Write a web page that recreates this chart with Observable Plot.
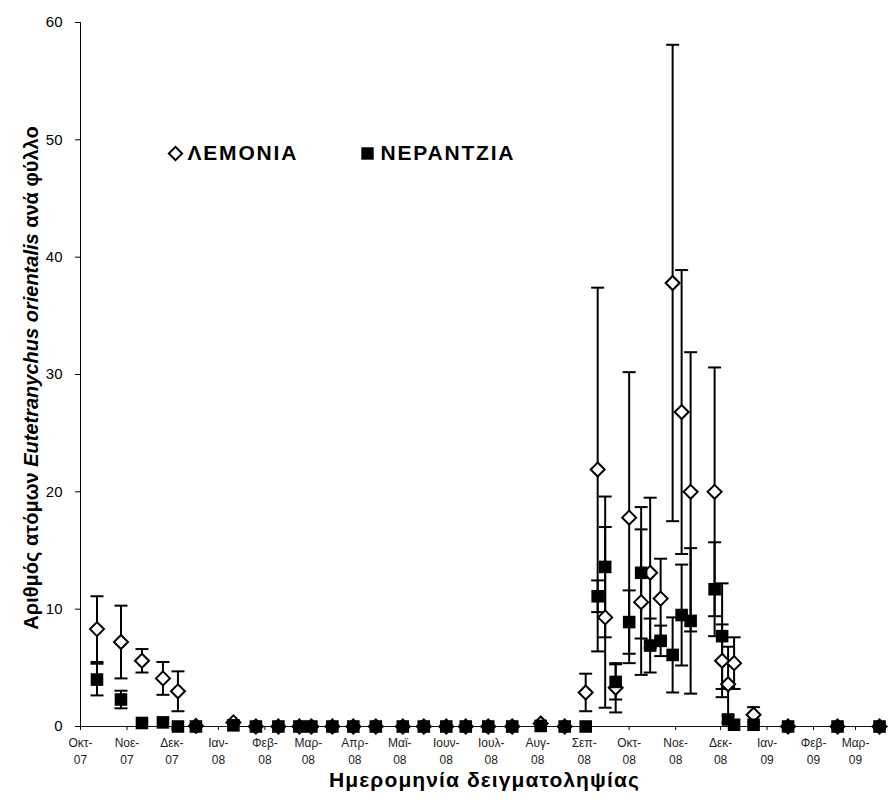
<!DOCTYPE html>
<html><head><meta charset="utf-8">
<script src="https://cdn.jsdelivr.net/npm/d3@7"></script>
<script src="https://cdn.jsdelivr.net/npm/@observablehq/plot@0.6"></script>
<style>body{margin:0;background:#fff;font-family:Arial,"Liberation Sans",sans-serif}</style>
</head><body><div id="chart"></div>
<script>
// Sampling dates
const dates = [
  "2007-10-12","2007-10-28","2007-11-11","2007-11-25","2007-12-05","2007-12-17",
  "2008-01-11","2008-01-26","2008-02-10","2008-02-24","2008-03-03","2008-03-17",
  "2008-03-31","2008-04-15","2008-05-03","2008-05-17","2008-06-01","2008-06-14",
  "2008-06-29","2008-07-15","2008-08-03","2008-08-19","2008-09-02","2008-09-10",
  "2008-09-15","2008-09-22","2008-10-01","2008-10-09","2008-10-15","2008-10-22",
  "2008-10-30","2008-11-05","2008-11-11","2008-11-27","2008-12-02","2008-12-06",
  "2008-12-10","2008-12-23","2009-01-15","2009-02-17","2009-03-17"
];
// ΛΕΜΟΝΙΑ (lemon) means and errors
const lemonia = [
  8.3,7.2,5.6,4.1,3.0,0.05, 0.35,0,0,0,0,0, 0,0,0,0,0,0, 0,0,0.25,0,2.9,21.9,
  9.3,3.3,17.8,10.6,13.1,10.9, 37.8,26.8,20.0,20.0,5.6,3.6, 5.4,1.0,0,0,0
];
const lemoniaErr = [
  2.8,3.1,1.0,1.4,1.7,0, 0,0,0,0,0,0, 0,0,0,0,0,0, 0,0,0,0,1.6,15.5,
  7.7,2.1,12.4,6.2,6.4,3.4, 20.3,12.1,11.9,10.6,3.1,3.2, 2.2,0.65,0,0,0
];
// ΝΕΡΑΝΤΖΙΑ (sour orange) means and errors
const nerantzia = [
  4.0,2.3,0.3,0.35,0,0, 0.1,0,0,0,0,0, 0,0,0,0,0,0, 0,0,0.05,0,0,11.1,
  13.6,3.8,8.9,13.1,6.9,7.3, 6.1,9.5,9.0,11.7,7.7,0.6, 0.15,0.15,0,0,0
];
const nerantziaErr = [
  1.35,0.75,0,0,0,0, 0,0,0,0,0,0, 0,0,0,0,0,0, 0,0,0,0,0,1.35,
  6.0,1.5,2.7,5.6,2.3,1.3, 3.2,4.3,6.2,4.0,4.5,0.3, 0,0,0,0,0
];
const monthLabels = ["Ιαν","Φεβ","Μαρ","Απρ","Μαϊ","Ιουν","Ιουλ","Αυγ","Σεπ","Οκτ","Νοε","Δεκ"];
const yTicks = [0,10,20,30,40,50,60];
const seriesNames = ["ΛΕΜΟΝΙΑ","ΝΕΡΑΝΤΖΙΑ"];
const yTitleParts = ["Αριθμός ατόμων ","Eutetranychus orientalis"," ανά φύλλο"];
const xTitle = "Ημερομηνία δειγματοληψίας";

const parse = d3.utcParse("%Y-%m-%d");
const xStart = parse("2007-10-01"), xEnd = parse("2009-03-23");
const L = dates.map((d,i)=>({date:parse(d), v:lemonia[i], e:lemoniaErr[i]}));
const N = dates.map((d,i)=>({date:parse(d), v:nerantzia[i], e:nerantziaErr[i]}));
const errRows = [...L, ...N].filter(d=>d.e>0);
const caps = errRows.flatMap(d=>[{date:d.date,y:d.v+d.e},{date:d.date,y:Math.max(0,d.v-d.e)}]);
const capSymbol = {draw(ctx){ ctx.moveTo(-6.5,0); ctx.lineTo(6.5,0); }};

const plot = Plot.plot({
  width: 890, height: 800,
  marginLeft: 80, marginRight: 2, marginTop: 22, marginBottom: 74,
  style: {fontFamily: "Arial, 'Liberation Sans', sans-serif", color: "black", background: "white"},
  x: {type: "utc", domain: [xStart, xEnd]},
  y: {domain: [0, 60]},
  marks: [
    Plot.ruleY([0], {stroke: "#111", strokeWidth: 1}),
    Plot.ruleX([xStart], {stroke: "black", strokeWidth: 1}),
    Plot.axisY({ticks: yTicks, tickSize: 5, tickPadding: 13, fontSize: 15, label: null, tickFormat: d=>String(d)}),
    Plot.axisX({ticks: d3.utcMonth.range(xStart, xEnd), tickSize: 4, tickPadding: 5, fontSize: 12, lineHeight: 1.4,
      fill: "#222", label: null,
      tickFormat: d => monthLabels[d.getUTCMonth()] + "-\n" + String(d.getUTCFullYear()).slice(2)}),
    Plot.ruleX(errRows, {x: "date", y1: d=>Math.max(0,d.v-d.e), y2: d=>d.v+d.e, stroke: "black", strokeWidth: 2}),
    Plot.dot(caps, {x: "date", y: "y", symbol: capSymbol, stroke: "black", strokeWidth: 2, fill: "none"}),
    Plot.dot(L, {x: "date", y: "v", symbol: "diamond2", r: 6.3, fill: "white", stroke: "black", strokeWidth: 2}),
    Plot.dot(N, {x: "date", y: "v", symbol: "square", r: 7.1, fill: "black", stroke: "none"}),
    // legend
    Plot.dot([seriesNames[0]], {frameAnchor: "top-left", dx: 95, dy: 131, symbol: "diamond2", r: 6, fill: "white", stroke: "black", strokeWidth: 2}),
    Plot.text([seriesNames[0]], {text: d=>d, frameAnchor: "top-left", lineAnchor: "middle", dx: 107, dy: 131, textAnchor: "start", fontSize: 21, fontWeight: "bold"}),
    Plot.dot([seriesNames[1]], {frameAnchor: "top-left", dx: 287, dy: 131, symbol: "square", r: 7, fill: "black"}),
    Plot.text([seriesNames[1]], {text: d=>d, frameAnchor: "top-left", lineAnchor: "middle", dx: 300, dy: 131, textAnchor: "start", fontSize: 21, fontWeight: "bold"}),
    // x title
    Plot.text([xTitle], {text: d=>d, frameAnchor: "bottom", lineAnchor: "middle", dy: 54, fontSize: 21, fontWeight: "bold"})
  ]
});
const svg = d3.select(plot);
// widen legend and axis-title lettering to match the reference
svg.selectAll("text").filter(function(){ return seriesNames.includes(this.textContent); })
  .attr("letter-spacing", "1.8px");
svg.selectAll("text").filter(function(){ return this.textContent === xTitle; })
  .attr("letter-spacing", "1.1px");
const t = svg.append("text")
  .attr("transform", "translate(33,378) rotate(-90)")
  .attr("text-anchor", "middle")
  .attr("dominant-baseline", "middle")
  .attr("font-size", 20).attr("font-weight", "bold").attr("fill", "black");
yTitleParts.forEach((p,i)=>{
  const s = t.append("tspan").text(p);
  if (i===1) s.attr("font-style","italic");
});
document.getElementById("chart").appendChild(plot);
</script>
</body></html>
